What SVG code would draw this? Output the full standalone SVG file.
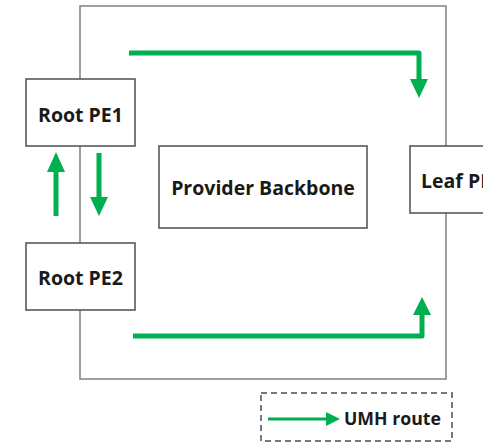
<svg xmlns="http://www.w3.org/2000/svg" width="483" height="442" viewBox="0 0 483 442">
  <defs>
    <style>
      .frame { fill: none; stroke: #808080; stroke-width: 1.5; }
      .node rect { fill: #ffffff; stroke: #4d4d4d; stroke-width: 1.5; }
      .node text, .legend text { font-family: "Open Sans", "Noto Sans", sans-serif; font-weight: bold; font-size: 19.5px; fill: #1a1a1a; }
      .legend text { font-size: 17.7px; }
      .route { fill: none; stroke: #00b050; stroke-width: 5; stroke-linejoin: round; }
      .head { fill: #00b050; }
    </style>
  </defs>
  <rect width="483" height="442" fill="#ffffff"/>

  <!-- backbone ring -->
  <rect class="frame" x="80" y="6" width="366" height="373"/>

  <g id="root-pe1" class="node">
    <rect x="26" y="79" width="109" height="67"/>
    <text x="80.5" y="121.5" text-anchor="middle">Root PE1</text>
  </g>
  <g id="root-pe2" class="node">
    <rect x="26" y="243" width="109" height="67"/>
    <text x="80.5" y="284.5" text-anchor="middle">Root PE2</text>
  </g>
  <g id="provider-backbone" class="node">
    <rect x="159" y="146" width="208" height="82"/>
    <text x="263" y="195" text-anchor="middle">Provider Backbone</text>
  </g>
  <g id="leaf-pe" class="node">
    <rect x="410" y="146" width="100" height="67"/>
    <text x="421" y="187.5">Leaf PE</text>
  </g>

  <g id="connectors">
    <!-- Root PE1 to Leaf PE -->
    <path class="route" d="M129 53 H419 V80"/>
    <polygon class="head" points="410,79 428,79 419,98"/>
    <!-- Root PE2 to Leaf PE -->
    <path class="route" d="M133 336 H422 V314"/>
    <polygon class="head" points="413,315 431,315 422,297"/>
    <!-- Root PE2 up to Root PE1 -->
    <path class="route" d="M56 216 V171"/>
    <polygon class="head" points="47,172 65,172 56,152"/>
    <!-- Root PE1 down to Root PE2 -->
    <path class="route" d="M99 153 V198"/>
    <polygon class="head" points="90,197 108,197 99,216"/>
  </g>

  <g id="legend" class="legend">
    <rect x="261" y="393" width="191" height="48" fill="none" stroke="#4d4d4d" stroke-width="1.5" stroke-dasharray="6,4"/>
    <line x1="268" y1="419" x2="328" y2="419" stroke="#00b050" stroke-width="3"/>
    <polygon class="head" points="326,412 340,419 326,426"/>
    <text x="344" y="424.5">UMH route</text>
  </g>
</svg>
